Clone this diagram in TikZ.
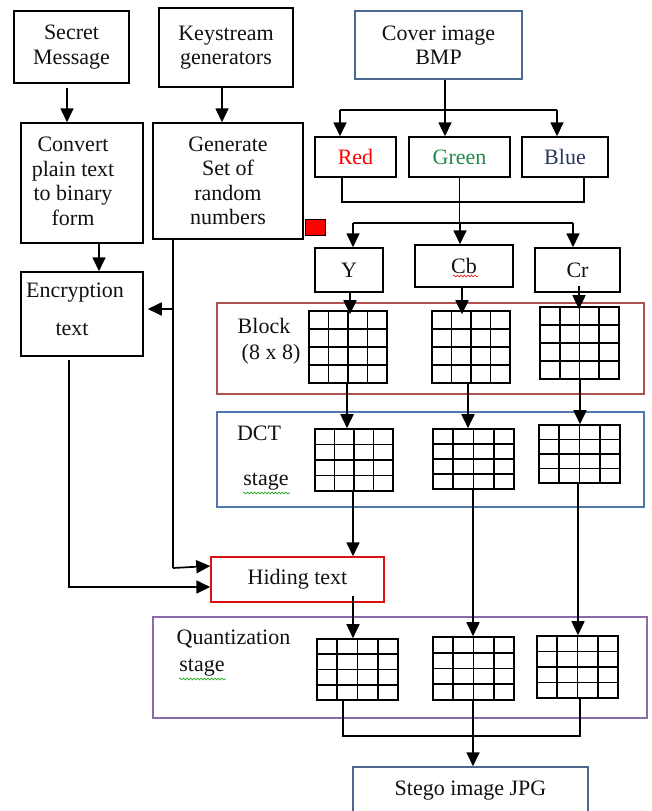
\documentclass[tikz,border=0pt]{standalone}
\usepackage{fontspec}
\setmainfont{Liberation Serif}
\usetikzlibrary{arrows.meta,calc,decorations.pathmorphing}
\definecolor{frameblue}{HTML}{4A6890}
\definecolor{blockred}{HTML}{B05050}
\definecolor{dctblue}{HTML}{4F78B0}
\definecolor{quantpurple}{HTML}{8A6AAA}
\definecolor{hidered}{HTML}{DD1111}
\definecolor{greentext}{HTML}{1E8A4A}
\definecolor{bluetext}{HTML}{2A3560}
\definecolor{spellgreen}{HTML}{22AA22}
\definecolor{spellred}{HTML}{EE2222}
\definecolor{inkblack}{HTML}{111111}

\begin{document}
\begin{tikzpicture}[x=1pt,y=-1pt,
  font=\fontsize{22}{24.5}\selectfont,
  text=inkblack,
  box/.style={draw=black, line width=1.5pt, inner sep=0pt, align=center},
  frame/.style={draw, line width=1.4pt, inner sep=0pt},
  label/.style={inner sep=0pt},
  conn/.style={line width=1.7pt, draw=black},
  arr/.style={conn, -{Triangle[length=14pt,width=13pt]}},
  wavy/.style={line width=0.7pt, decorate,
    decoration={snake, amplitude=0.9pt, segment length=3.5pt}},
  cellgrid/.style={draw=black, line width=1.6pt, inner sep=0pt,
    path picture={
      \foreach \f in {0.25,0.5,0.75}{
        \draw[line width=1.6pt]
          ($(path picture bounding box.north west)!\f!(path picture bounding box.north east)$) --
          ($(path picture bounding box.south west)!\f!(path picture bounding box.south east)$);
        \draw[line width=1.6pt]
          ($(path picture bounding box.north west)!\f!(path picture bounding box.south west)$) --
          ($(path picture bounding box.north east)!\f!(path picture bounding box.south east)$);
      }}},
]
\useasboundingbox (0,0) rectangle (652,811);
\clip (0,0) rectangle (652,811);

% ---------- stage frames ----------
\node[frame, draw=blockred, minimum width=427pt, minimum height=91pt] (blockframe) at (430.5,348.5) {};
\node[frame, draw=dctblue, minimum width=427pt, minimum height=95pt] (dctframe) at (430.5,459.5) {};
\node[frame, draw=quantpurple, minimum width=494pt, minimum height=101pt] (quantframe) at (400,667.5) {};

\node[label] (blocktxt) at (264,326) {Block};
\node[label] (blocksize) at (271,354) {(8 x 8)};
\node[label] (dcttxt) at (259,433) {DCT};
\node[label] (dctstage) at (266,482) {stage};
\node[label] (quanttxt) at (233.5,639) {Quantization};
\node[label] (quantstage) at (202,668) {stage};

% ---------- left column ----------
\node[box, minimum width=115pt, minimum height=72pt] (secret) at (71.5,47) {Secret\\Message};
\node[box, minimum width=122pt, minimum height=120pt] (convert) at (82,183) {};
\node[label, align=center] (converttxt) at (73,181.5) {Convert\\plain text\\to binary\\form};
\node[box, minimum width=122pt, minimum height=84pt] (encrypt) at (82,314) {};
\node[label] (encrypttxt) at (75,293) {Encryption};
\node[label] (encrypttxt2) at (72,329) {text};

% ---------- key column ----------
\node[box, minimum width=134pt, minimum height=79pt] (keystream) at (226,47.5) {Keystream\\generators};
\node[box, minimum width=150pt, minimum height=116pt] (generate) at (228,181) {Generate\\Set of\\random\\numbers};
\node[draw=black, line width=0.9pt, fill=red, inner sep=0pt,
      minimum width=20pt, minimum height=16pt] (marker) at (315,227) {};

% ---------- colour channels ----------
\node[box, draw=frameblue, minimum width=167pt, minimum height=68pt] (cover) at (438.5,45) {Cover image\\BMP};
\node[box, minimum width=81pt, minimum height=40pt, text=red] (red) at (355.5,157) {Red};
\node[box, minimum width=101pt, minimum height=40pt, text=greentext] (green) at (459.5,157) {Green};
\node[box, minimum width=86pt, minimum height=40pt, text=bluetext] (blue) at (565,157) {Blue};

\node[box, minimum width=68pt, minimum height=44pt] (ych) at (349,270) {Y};
\node[box, minimum width=98pt, minimum height=42pt] (cbch) at (464,266) {Cb};
\node[box, minimum width=85pt, minimum height=44pt] (crch) at (577.5,270) {Cr};

% ---------- 8x8 block grids ----------
\node[cellgrid, minimum width=78pt, minimum height=72pt] (bY) at (348,347) {};
\node[cellgrid, minimum width=78pt, minimum height=72pt] (bCb) at (471,347) {};
\node[cellgrid, minimum width=79pt, minimum height=72pt] (bCr) at (579.5,343) {};

\node[cellgrid, minimum width=78pt, minimum height=62pt] (dY) at (354,460) {};
\node[cellgrid, minimum width=81pt, minimum height=60pt] (dCb) at (473.5,459) {};
\node[cellgrid, minimum width=81pt, minimum height=58pt] (dCr) at (579.5,454) {};

\node[cellgrid, minimum width=81pt, minimum height=61pt] (qY) at (357.5,669.5) {};
\node[cellgrid, minimum width=81pt, minimum height=63pt] (qCb) at (473.5,668.5) {};
\node[cellgrid, minimum width=81pt, minimum height=62pt] (qCr) at (577.5,667) {};

\node[box, draw=hidered, minimum width=173pt, minimum height=45pt] (hiding) at (297.5,579.5) {Hiding text};
\node[box, draw=frameblue, minimum width=235pt, minimum height=48pt] (stego) at (470.5,791) {Stego image JPG};

% ---------- spelling marks ----------
\draw[wavy, spellred] (453,276) -- (478,276);
\draw[wavy, spellgreen] (243,493) -- (290,493);
\draw[wavy, spellgreen] (179,679) -- (226,679);

% ---------- message path ----------
\coordinate (sm) at ([xshift=-4.5pt]secret.south);
\draw[arr] ([yshift=-4pt]sm) -- (sm |- convert.north);
\coordinate (cv) at ([xshift=17pt]convert.south);
\draw[arr] (cv) -- (cv |- encrypt.north);
\coordinate (en) at ([xshift=-13pt,yshift=-3pt]encrypt.south);
\coordinate (hidB) at ([yshift=-7.5pt]hiding.west);
\draw[arr] (en) |- (hidB);

% ---------- key path ----------
\coordinate (ks) at ([xshift=-4pt]keystream.south);
\draw[arr] (ks) -- (ks |- generate.north);
\coordinate (gdown) at (173,568);
\coordinate (gbranch) at (173,309);
\draw[conn] (gdown |- generate.south) -- (gdown);
\coordinate (encR) at ([xshift=4pt]encrypt.east);
\draw[arr] (gbranch) -- (encR |- gbranch);
\coordinate (hidA) at ([yshift=13.5pt]hiding.west);
\draw[arr] (gdown) -- (hidA);

% ---------- cover image split ----------
\coordinate (cd) at ([xshift=6.5pt]cover.south);
\coordinate (rgbbar) at (0,110);
\draw[conn] (cd) -- (cd |- rgbbar);
\coordinate (rT) at ([xshift=-15.5pt]red.north);
\coordinate (gT) at ([xshift=-14.5pt]green.north);
\coordinate (bT) at ([xshift=-8pt]blue.north);
\draw[conn] (rT |- rgbbar) -- (bT |- rgbbar);
\foreach \c in {rT,gT,bT} \draw[arr] (\c |- rgbbar) -- (\c);

% ---------- RGB to YCbCr ----------
\coordinate (rB) at ([xshift=-13.5pt]red.south);
\coordinate (bB) at ([xshift=19pt]blue.south);
\coordinate (mixbar) at (0,202);
\coordinate (splitbar) at (0,223);
\draw[conn] (rB) -- (rB |- mixbar) -- (bB |- mixbar) -- (bB);
\draw[conn] (green.south) -- (green.south |- splitbar);
\coordinate (yT) at ([xshift=4pt]ych.north);
\coordinate (cbT) at ([xshift=-4pt]cbch.north);
\coordinate (crT) at ([xshift=-4.5pt]crch.north);
\draw[conn] (yT |- splitbar) -- (crT |- splitbar);
\foreach \c in {yT,cbT,crT} \draw[arr] (\c |- splitbar) -- (\c);

% ---------- channels into blocks ----------
\coordinate (yB) at ([xshift=1pt]ych.south);
\draw[arr, shorten >=-4pt] (yB) -- (yB |- bY.north);
\coordinate (cbB) at ([xshift=-2pt]cbch.south);
\draw[arr, shorten >=-4pt] (cbB) -- (cbB |- bCb.north);
\coordinate (crB) at ([xshift=1.5pt,yshift=7pt]crch.south);
\draw[arr, shorten >=-3pt] (crB) -- (crB |- bCr.north);

% ---------- blocks into DCT ----------
\coordinate (b1) at ([xshift=-1pt]bY.south);
\draw[arr] (b1) -- (b1 |- dY.north);
\coordinate (b2) at ([xshift=-3pt]bCb.south);
\draw[arr] (b2) -- (b2 |- dCb.north);
\coordinate (b3) at ([xshift=0.5pt]bCr.south);
\draw[arr] (b3) -- (b3 |- dCr.north);

% ---------- DCT into hiding / quantization ----------
\coordinate (d1) at ([xshift=-1pt]dY.south);
\draw[arr] (d1) -- (d1 |- hiding.north);
\coordinate (d2) at ([xshift=-0.5pt]dCb.south);
\draw[arr] (d2) -- (d2 |- qCb.north);
\coordinate (d3) at ([xshift=-1.5pt]dCr.south);
\draw[arr] (d3) -- (d3 |- qCr.north);
\coordinate (h1) at ([xshift=55.5pt,yshift=7pt]hiding.south);
\draw[arr] (h1) -- (h1 |- qY.north);

% ---------- merge into stego image ----------
\coordinate (q1) at ([xshift=-14.5pt]qY.south);
\coordinate (q3) at ([xshift=2.5pt]qCr.south);
\coordinate (qbar) at (0,736);
\draw[conn] (q1) -- (q1 |- qbar) -- (q3 |- qbar) -- (q3);
\coordinate (q2) at ([xshift=-0.5pt]qCb.south);
\draw[arr] (q2) -- (q2 |- stego.north);
\end{tikzpicture}
\end{document}
